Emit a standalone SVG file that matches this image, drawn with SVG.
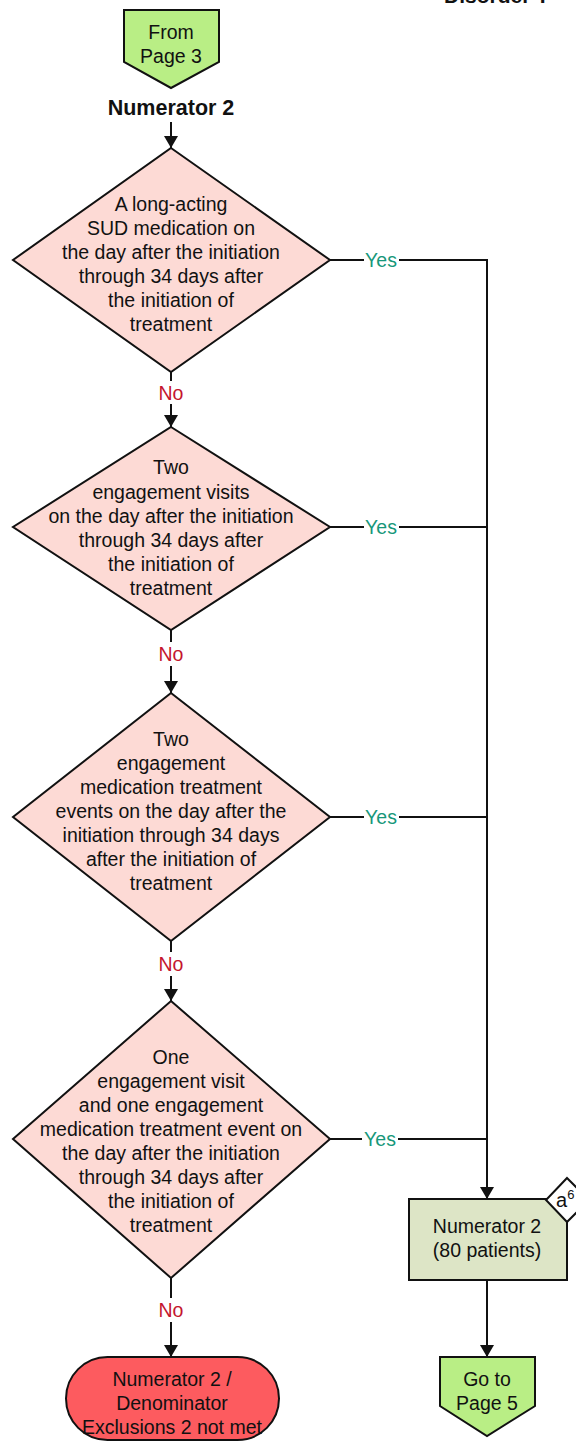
<svg xmlns="http://www.w3.org/2000/svg" width="576" height="1448" viewBox="0 0 576 1448">
<defs>
<style>
text{font-family:"Liberation Sans",Arial,sans-serif;font-size:19.5px;fill:#111;text-anchor:middle}
.d{fill:#fddad5;stroke:#111;stroke-width:2}
.p{fill:#b9ee85;stroke:#111;stroke-width:2}
.ln{stroke:#111;stroke-width:2;fill:none}
.yes{fill:#17977a}
.no{fill:#c4162e}
</style>
<marker id="a" viewBox="0 0 12 16" refX="12" refY="8" markerWidth="12" markerHeight="16" markerUnits="userSpaceOnUse" orient="auto">
<path d="M0,1 L12,8 L0,15 z" fill="#111"/>
</marker>
</defs>
<text x="444" y="3" style="font-weight:bold;font-size:21px;text-anchor:start">Disorder T</text>
<g id="connectors">
<path class="ln" d="M171,122 V148" marker-end="url(#a)"/>
<path class="ln" d="M171,372 V381 M171,404 V427" marker-end="url(#a)"/>
<path class="ln" d="M171,630 V642 M171,666 V693" marker-end="url(#a)"/>
<path class="ln" d="M171,941 V952 M171,976 V1001" marker-end="url(#a)"/>
<path class="ln" d="M171,1278 V1298 M171,1322 V1357" marker-end="url(#a)"/>
<path class="ln" d="M330,260 H364 M399,260 H487 V1199" marker-end="url(#a)"/>
<path class="ln" d="M330,527 H364 M399,527 H487"/>
<path class="ln" d="M330,817 H364 M399,817 H487"/>
<path class="ln" d="M330,1139 H362 M398,1139 H487"/>
<path class="ln" d="M487,1280 V1357" marker-end="url(#a)"/>
<text class="no" x="171" y="400">No</text>
<text class="no" x="171" y="661">No</text>
<text class="no" x="171" y="971">No</text>
<text class="no" x="171" y="1317">No</text>
<text class="yes" x="381" y="267">Yes</text>
<text class="yes" x="381" y="534">Yes</text>
<text class="yes" x="381" y="824">Yes</text>
<text class="yes" x="380" y="1146">Yes</text>
</g>
<g id="from-page3">
<path class="p" d="M124,10 H219 V62 L171,88 L124,62 Z"/>
<text x="171" y="39">From</text>
<text x="171" y="63">Page 3</text>
</g>
<g id="title">
<text x="171" y="115" style="font-weight:bold;font-size:21.5px">Numerator 2</text>
</g>
<g id="d1">
<path class="d" d="M171,148 L330,260 L171,372 L13,260 Z"/>
<text x="171" y="211">A long-acting</text>
<text x="171" y="235">SUD medication on</text>
<text x="171" y="259">the day after the initiation</text>
<text x="171" y="283">through 34 days after</text>
<text x="171" y="307">the initiation of</text>
<text x="171" y="331">treatment</text>
</g>
<g id="d2">
<path class="d" d="M171,427 L330,527 L171,630 L13,527 Z"/>
<text x="171" y="474">Two</text>
<text x="171" y="499">engagement visits</text>
<text x="171" y="523">on the day after the initiation</text>
<text x="171" y="547">through 34 days after</text>
<text x="171" y="571">the initiation of</text>
<text x="171" y="595">treatment</text>
</g>
<g id="d3">
<path class="d" d="M171,693 L330,817 L171,941 L13,817 Z"/>
<text x="171" y="746">Two</text>
<text x="171" y="770">engagement</text>
<text x="171" y="794">medication treatment</text>
<text x="171" y="818">events on the day after the</text>
<text x="171" y="842">initiation through 34 days</text>
<text x="171" y="866">after the initiation of</text>
<text x="171" y="890">treatment</text>
</g>
<g id="d4">
<path class="d" d="M171,1001 L330,1139 L171,1278 L13,1139 Z"/>
<text x="171" y="1064">One</text>
<text x="171" y="1088">engagement visit</text>
<text x="171" y="1112">and one engagement</text>
<text x="171" y="1136">medication treatment event on</text>
<text x="171" y="1160">the day after the initiation</text>
<text x="171" y="1184">through 34 days after</text>
<text x="171" y="1208">the initiation of</text>
<text x="171" y="1232">treatment</text>
</g>
<g id="not-met">
<rect x="66" y="1357" width="213" height="83" rx="41.5" fill="#fd5b5f" stroke="#111" stroke-width="2"/>
<text x="172" y="1386">Numerator 2 /</text>
<text x="172" y="1410">Denominator</text>
<text x="172" y="1434">Exclusions 2 not met</text>
</g>
<g id="numerator2">
<rect x="409" y="1199" width="158" height="81" fill="#dde5c6" stroke="#111" stroke-width="2"/>
<text x="487" y="1233">Numerator 2</text>
<text x="487" y="1257">(80 patients)</text>
</g>
<g id="badge">
<path d="M567,1178 L589,1200 L567,1222 L546,1200 Z" fill="#fff" stroke="#111" stroke-width="2"/>
<text x="556" y="1207" style="font-size:20px;text-anchor:start">a<tspan dy="-8" style="font-size:13px">6</tspan></text>
</g>
<g id="to-page5">
<path class="p" d="M440,1357 H535 V1406 L487,1436 L440,1406 Z"/>
<text x="487" y="1386">Go to</text>
<text x="487" y="1410">Page 5</text>
</g>
</svg>
